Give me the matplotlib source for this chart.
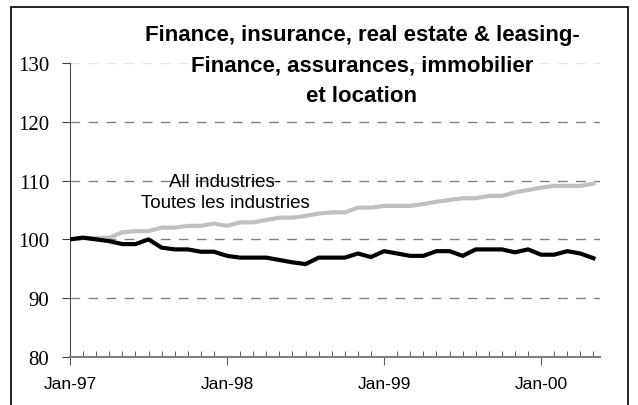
import matplotlib
matplotlib.use('Agg')
import matplotlib.pyplot as plt
import numpy as np
from matplotlib.patches import Rectangle

# Indici mensili, gennaio 1997 - maggio 2000
mesi = np.arange(41)
tick_label = ['Jan-97', 'Jan-98', 'Jan-99', 'Jan-00']
tick_pos = [0, 12, 24, 36]

finanza = [100.0, 100.3, 100.0, 99.7, 99.2, 99.2, 100.0, 98.6, 98.3, 98.3,
           97.9, 97.9, 97.2, 96.9, 96.9, 96.9, 96.5, 96.1, 95.8, 96.9,
           96.9, 96.9, 97.6, 97.0, 98.0, 97.6, 97.2, 97.2, 98.0, 98.0,
           97.2, 98.3, 98.3, 98.3, 97.8, 98.3, 97.4, 97.4, 98.0, 97.6,
           96.8]
tutte = [100.0, 100.2, 100.2, 100.3, 101.2, 101.4, 101.4, 102.0, 102.0, 102.3,
         102.3, 102.7, 102.3, 102.9, 102.9, 103.3, 103.7, 103.7, 104.0, 104.4,
         104.6, 104.6, 105.4, 105.4, 105.7, 105.7, 105.7, 106.0, 106.4, 106.7,
         107.0, 107.0, 107.4, 107.4, 108.0, 108.4, 108.8, 109.1, 109.1, 109.1,
         109.5]

fig = plt.figure(figsize=(6.38, 4.06), dpi=100)
ax = fig.add_axes([70/638, 1-358/406, 530/638, 294/406])

# griglia tratteggiata
for g in [90, 100, 110, 120]:
    ax.axhline(g, color='#808080', lw=1, dashes=(7, 6), zorder=1)
ax.axhline(130, color='#e6e6e6', lw=1, dashes=(7, 6), zorder=1)

ax.plot(mesi, tutte, color='#c0c0c0', lw=3, solid_joinstyle='round', zorder=2)
ax.plot(mesi, finanza, color='black', lw=3, solid_joinstyle='round', zorder=3)

ax.set_xlim(0, 40.5)
ax.set_ylim(80, 130)
ax.set_yticks([80, 90, 100, 110, 120, 130])
ax.set_xticks(tick_pos)
ax.set_xticklabels(tick_label, fontsize=12.5, family='Liberation Sans')
ax.set_xticks(np.arange(41), minor=True)
ax.tick_params(axis='x', which='major', direction='out', length=6, color='#606060', pad=8)
ax.tick_params(axis='x', which='minor', direction='in', length=4, color='#404040')
ax.tick_params(axis='y', direction='out', length=6, color='#404040', pad=9)
for lab in ax.get_yticklabels():
    lab.set_family('Liberation Serif')
    lab.set_fontsize(15)

for s in ['top', 'right']:
    ax.spines[s].set_visible(False)
ax.spines['left'].set_color('#505050')
ax.spines['bottom'].set_color('#808080')
ax.spines['bottom'].set_linewidth(1.5)

ax.text(11.86, 108.1, 'All industries-\nToutes les industries', ha='center', va='center',
        fontsize=13.5, family='Liberation Sans', linespacing=1.32, zorder=4)

fig.text(362/638, 1-66/406, 'Finance, insurance, real estate & leasing-\n'
         'Finance, assurances, immobilier\net location', ha='center', va='center',
         fontsize=16, fontweight='bold', family='Liberation Sans', linespacing=1.62)

# cornice attorno alla figura
fig.patches.append(Rectangle((11/638, -0.05), 617/638, 1.05 - 8/406, transform=fig.transFigure,
                             fill=False, edgecolor='black', lw=1.2))

plt.savefig('out.png', dpi=100)
